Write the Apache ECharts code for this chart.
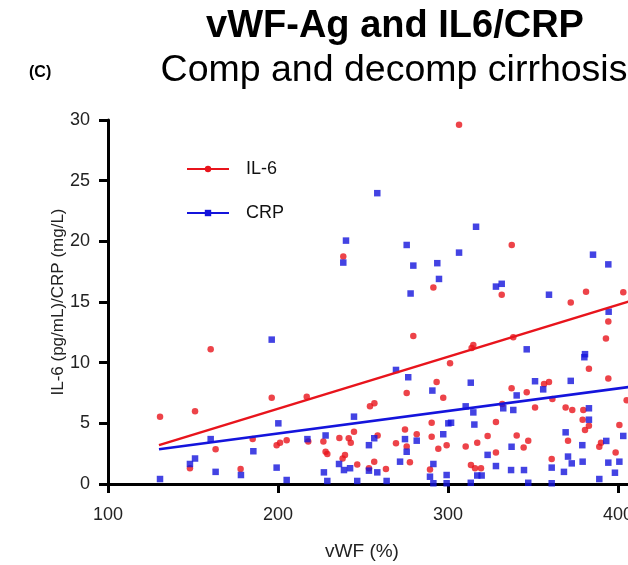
<!DOCTYPE html>
<html>
<head>
<meta charset="utf-8">
<script src="https://cdn.jsdelivr.net/npm/echarts@6/dist/echarts.min.js"></script>
<style>
  html, body { margin: 0; padding: 0; background: #fff; }
  #chart { width: 628px; height: 565px; }
</style>
</head>
<body>
<div id="chart"></div>
<script>
// values
const xTicks = [100, 200, 300, 400, 500]
const yTicks = [0, 5, 10, 15, 20, 25, 30]

const il6X = [130.6, 160.4, 151.2, 196.3, 163.3, 185.1, 148.2, 178, 199.2, 279.6, 216.9, 254.1, 256.7, 275.7, 293.3, 297.2, 301.2, 201.2, 205.1, 217.8, 226.7, 228, 229, 236.1, 241.6, 242.8, 244.7, 239.4, 238, 246.6, 253.5, 256.6, 263.5, 258.6, 269.4, 274.7, 275.7, 277.6, 281.6, 290.4, 290.4, 294.3, 299.2, 289.4, 372.2, 394.3, 392.9, 382.9, 394.3, 314.9, 313.9, 338.4, 337.4, 346.3, 356.5, 359.4, 361.4, 351.2, 369.2, 373.1, 379.6, 379.2, 380.6, 382.9, 331.9, 328.2, 310.4, 317.2, 323.3, 328.2, 340.4, 347.2, 344.5, 361, 370.6, 390, 389, 400.8, 405.1, 398.6, 313.5, 315.9, 319.4, 238.4, 291.4, 306.5, 337.5, 331.6, 381.2, 403.1]
const il6Y = [5.55, 11.1, 6.0, 7.1, 2.86, 3.7, 1.29, 1.24, 3.2, 12.2, 7.2, 6.4, 6.65, 7.5, 8.4, 7.1, 9.95, 3.4, 3.6, 3.5, 3.5, 2.66, 2.47, 3.8, 3.77, 3.4, 4.3, 2.4, 2.1, 1.6, 1.3, 1.84, 1.24, 4.0, 3.35, 4.5, 3.1, 1.8, 4.1, 5.05, 3.9, 2.9, 3.2, 1.2, 14.95, 13.4, 12.0, 9.5, 8.7, 11.46, 11.2, 12.1, 7.9, 7.56, 8.24, 8.4, 7.0, 6.3, 6.3, 6.1, 6.1, 5.3, 4.45, 4.8, 6.6, 5.1, 3.1, 3.4, 3.96, 2.6, 4.0, 3.57, 3.0, 2.06, 3.57, 3.4, 3.07, 4.86, 6.9, 2.6, 1.57, 1.29, 1.29, 18.74, 16.2, 29.6, 19.7, 15.6, 15.85, 15.8]

const crpX = [130.6, 196.3, 160.4, 151.2, 148.2, 163.3, 185.5, 178.2, 200.2, 199.2, 205.1, 217.3, 228, 227, 229, 244.7, 235.9, 238.8, 242.4, 246.6, 253.5, 256.6, 253.5, 258.4, 263.9, 269.4, 276.6, 274.7, 275.7, 271.8, 281.6, 290.8, 297.2, 300.2, 291.4, 289.4, 291.4, 299.2, 299.2, 394.5, 346.3, 380.6, 380.2, 313.4, 351.2, 340.4, 356, 372.2, 310.4, 314.9, 332.5, 338.4, 382.9, 382.9, 301.8, 315.5, 369.2, 337.4, 323.3, 379, 393.1, 403.1, 370.6, 372.8, 379.2, 328.2, 337.1, 344.7, 361, 368.2, 394.3, 400.8, 398.2, 389, 313.4, 317.2, 319.8, 347.2, 361, 258.4, 240, 238.4, 275.7, 279.6, 293.7, 294.7, 278, 316.5, 306.5, 328.2, 331.6, 359.4, 385.3, 394.3]
const crpY = [0.41, 11.9, 3.7, 2.1, 1.65, 1.0, 2.7, 0.74, 5.0, 1.35, 0.33, 3.7, 4.0, 0.96, 0.25, 5.55, 1.65, 1.15, 1.3, 0.25, 3.2, 3.77, 1.1, 0.96, 0.25, 9.4, 8.8, 3.7, 2.66, 1.84, 3.57, 7.7, 4.1, 5.0, 1.65, 0.6, 0.06, 0.74, 0.06, 14.2, 11.1, 10.7, 10.45, 8.35, 8.47, 7.3, 7.8, 8.5, 6.4, 5.9, 6.24, 6.1, 6.24, 5.3, 5.05, 4.9, 4.26, 3.07, 2.4, 3.2, 3.55, 3.96, 2.26, 1.7, 1.84, 1.48, 1.15, 1.15, 1.35, 1.0, 1.76, 1.84, 0.93, 0.41, 0.1, 0.7, 0.7, 0.1, 0.06, 23.97, 20.06, 18.25, 19.7, 18.0, 18.2, 16.9, 15.7, 21.2, 19.07, 16.27, 16.5, 15.6, 18.9, 18.1]

// fitted lines, end points
const il6FitX = [130, 410]
const il6FitY = [3.2, 15.2]
const crpFitX = [130, 410]
const crpFitY = [2.86, 8.06]

const red = '#e8141c'
const blue = '#1414dc'
const font = 'Liberation Sans, Arial, Helvetica, sans-serif'

const zip = (xs, ys) => xs.map((x, i) => [x, ys[i]])

let chart = echarts.init(
  document.getElementById('chart'),
  null,
  {
    width: 628,
    height: 565
  }
)

let option = {
  animation: false,
  backgroundColor: '#fff',
  textStyle: { fontFamily: font },
  title: [
    {
      text: 'vWF-Ag and IL6/CRP',
      left: 390,
      top: 3,
      textAlign: 'center',
      textStyle: { fontSize: 38, fontWeight: 'bold', color: '#000', fontFamily: font }
    },
    {
      text: 'Comp and decomp cirrhosis',
      left: 389,
      top: 47,
      textAlign: 'center',
      textStyle: { fontSize: 37.5, fontWeight: 'normal', color: '#000', fontFamily: font }
    },
    {
      text: '(C)',
      left: 24,
      top: 60,
      textStyle: { fontSize: 16, fontWeight: 'bold', color: '#000', fontFamily: font }
    }
  ],
  // axis titles placed by hand: the x axis runs off the right edge
  graphic: [
    {
      type: 'text',
      x: 362,
      y: 552,
      style: {
        text: 'vWF (%)',
        textAlign: 'center',
        textVerticalAlign: 'middle',
        font: '19px Liberation Sans, Arial, sans-serif',
        fill: '#222'
      }
    },
    {
      type: 'text',
      x: 58,
      y: 302,
      rotation: Math.PI / 2,
      style: {
        text: 'IL-6 (pg/mL)/CRP (mg/L)',
        textAlign: 'center',
        textVerticalAlign: 'middle',
        font: '17px Liberation Sans, Arial, sans-serif',
        fill: '#222'
      }
    }
  ],
  legend: {
    orient: 'vertical',
    left: 181,
    top: 155,
    itemWidth: 42,
    itemHeight: 8,
    itemGap: 26,
    data: ['IL-6', 'CRP'],
    textStyle: { fontSize: 18, color: '#111', fontFamily: font, padding: [0, 0, 0, 12] }
  },
  grid: {
    left: 108,
    top: 120,
    width: 680,
    height: 364,
    outerBoundsMode: 'none',
    containLabel: false
  },
  xAxis: {
    type: 'value',
    min: xTicks[0],
    max: xTicks[xTicks.length - 1],
    interval: 100,
    splitLine: { show: false },
    axisLine: { lineStyle: { color: '#000', width: 3 } },
    axisTick: { length: 9, lineStyle: { color: '#000', width: 3 } },
    axisLabel: { margin: 22, fontSize: 18, color: '#222', fontFamily: font }
  },
  yAxis: {
    type: 'value',
    min: yTicks[0],
    max: yTicks[yTicks.length - 1],
    interval: 5,
    splitLine: { show: false },
    axisLine: { lineStyle: { color: '#000', width: 3 } },
    axisTick: { length: 9, lineStyle: { color: '#000', width: 3 } },
    axisLabel: { margin: 18, fontSize: 18, color: '#222', fontFamily: font }
  },
  series: [
    {
      name: 'IL-6',
      type: 'line',
      data: zip(il6FitX, il6FitY),
      symbol: 'circle',
      symbolSize: 6,
      showSymbol: false,
      lineStyle: { color: red, width: 2.5 },
      itemStyle: { color: red },
      z: 3
    },
    {
      name: 'CRP',
      type: 'line',
      data: zip(crpFitX, crpFitY),
      symbol: 'rect',
      symbolSize: 6,
      showSymbol: false,
      lineStyle: { color: blue, width: 2.5 },
      itemStyle: { color: blue },
      z: 3
    },
    {
      name: 'IL-6 points',
      type: 'scatter',
      data: zip(il6X, il6Y),
      symbol: 'circle',
      symbolSize: 6.5,
      itemStyle: { color: red },
      z: 2
    },
    {
      name: 'CRP points',
      type: 'scatter',
      data: zip(crpX, crpY),
      symbol: 'rect',
      symbolSize: 6.5,
      itemStyle: { color: blue },
      z: 2
    }
  ]
}
chart.setOption(option)
</script>
</body>
</html>
